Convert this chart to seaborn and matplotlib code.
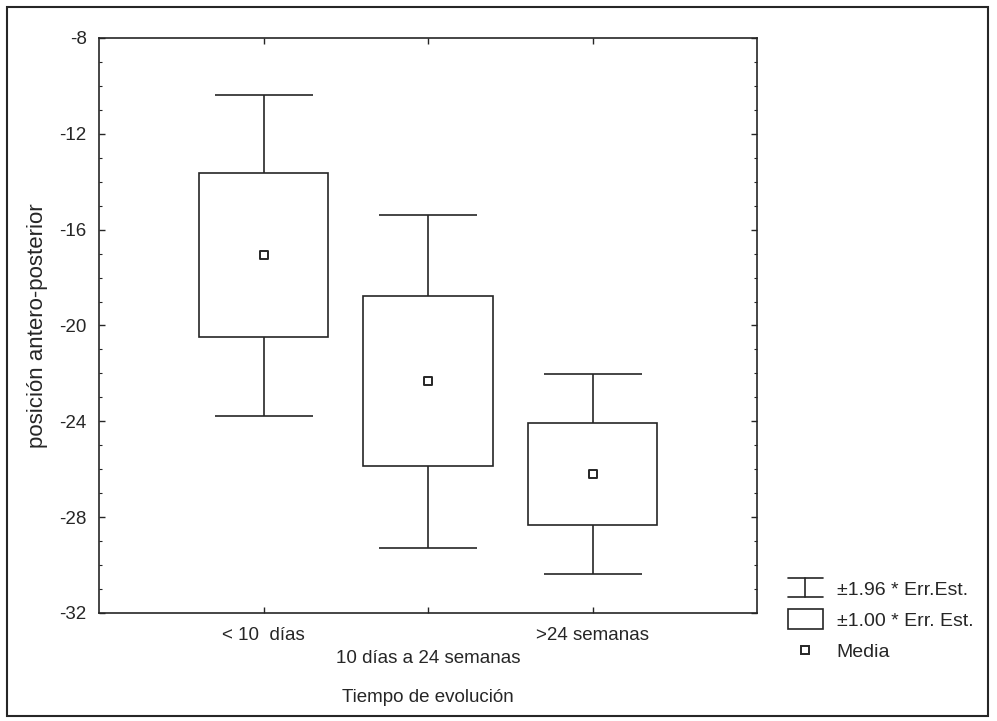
import numpy as np
import pandas as pd
import seaborn as sns
import matplotlib.pyplot as plt
from matplotlib.lines import Line2D
from matplotlib.patches import Rectangle
from matplotlib.ticker import MultipleLocator
from matplotlib.legend_handler import HandlerBase, HandlerPatch

grupos = ['< 10  días', '10 días a 24 semanas', '>24 semanas']
media = [-17.07, -22.33, -26.21]
err_est = [3.42, 3.55, 2.13]

ink = '#262626'

df = pd.DataFrame({'grupo': grupos, 'media': media, 'se': err_est})
df['pos'] = np.arange(len(df))


class BeamHandler(HandlerBase):
    # icon like a horizontal "I": cap, stem, cap
    def create_artists(self, legend, orig_handle, xdescent, ydescent,
                       width, height, fontsize, trans):
        x0, x1 = -xdescent, -xdescent + width
        y0, y1 = -ydescent - 2, -ydescent + height + 2
        xm = (x0 + x1) / 2
        kw = dict(color=ink, lw=1.2, transform=trans)
        return [Line2D([x0, x1], [y1, y1], **kw),
                Line2D([x0, x1], [y0, y0], **kw),
                Line2D([xm, xm], [y0, y1], **kw)]


def tall_box(legend, orig_handle, xdescent, ydescent, width, height, fontsize):
    return Rectangle((-xdescent, -ydescent - 2), width, height + 4)


sns.set_theme(style='ticks')
plt.rcParams['font.family'] = ['Liberation Sans', 'DejaVu Sans']
plt.rcParams['axes.unicode_minus'] = False

fig = plt.figure(figsize=(9.97, 7.21), dpi=100)
ax = fig.add_axes([0.0993, 0.1498, 0.6600, 0.7975])

eb = ax.errorbar(df['pos'], df['media'], yerr=1.96 * df['se'], fmt='none',
                 ecolor=ink, elinewidth=1.2, capsize=35.5, capthick=1.2,
                 zorder=2)
ax.bar(df['pos'], 2 * df['se'], bottom=df['media'] - df['se'], width=0.79,
       facecolor='white', edgecolor=ink, linewidth=1.2, zorder=3)
sns.scatterplot(data=df, x='pos', y='media', marker='s', s=40,
                facecolor='white', edgecolor=ink, linewidth=1.4,
                zorder=4, ax=ax)

ax.set_xlim(-1, 3)
ax.set_ylim(-32, -8)
ax.set_xticks(df['pos'])
ax.set_xticklabels([g if i != 1 else '\n' + g for i, g in enumerate(grupos)])
ax.get_xticklabels()[1].set_linespacing(1.5)
ax.set_yticks(np.arange(-32, -7, 4))
ax.yaxis.set_minor_locator(MultipleLocator(1))

ax.tick_params(axis='both', which='both', direction='in', colors=ink,
               top=True, right=True, labelsize=13.5)
ax.tick_params(axis='x', which='major', length=4, pad=10, width=1.0)
ax.tick_params(axis='y', which='major', length=4, pad=9, width=1.0)
ax.tick_params(axis='y', which='minor', length=2.5, width=0.8)
ax.tick_params(axis='x', which='minor', length=0)
for s in ax.spines.values():
    s.set_visible(True)
    s.set_color(ink)
    s.set_linewidth(1.2)

ax.set_xlabel('Tiempo de evolución', fontsize=13.5, color=ink)
ax.set_ylabel('posición antero-posterior', fontsize=16, color=ink)
ax.xaxis.set_label_coords(0.5, -0.132)
ax.yaxis.set_label_coords(-0.077, 0.5)

h_beam = Line2D([], [])
h_box = Rectangle((0, 0), 1, 1, facecolor='white', edgecolor=ink, linewidth=1.2)
h_mean = Line2D([], [], ls='none', marker='s', markersize=6,
                markerfacecolor='white', markeredgecolor=ink, markeredgewidth=1.4)
leg = fig.legend([h_beam, h_box, h_mean],
                 ['±1.96 * Err.Est.', '±1.00 * Err. Est.', 'Media'],
                 loc='upper left', bbox_to_anchor=(0.790, 1 - 581 / 721),
                 frameon=False, fontsize=14, handlelength=1.8,
                 handletextpad=0.72, labelspacing=0.7, borderpad=0,
                 borderaxespad=0,
                 handler_map={h_beam: BeamHandler(),
                              Rectangle: HandlerPatch(patch_func=tall_box)})
for t in leg.get_texts():
    t.set_color(ink)

fig.add_artist(Rectangle((0.007, 0.007), 0.984, 0.983, transform=fig.transFigure,
                         fill=False, edgecolor=ink, linewidth=1.5))

fig.savefig('out.png', dpi=100)
